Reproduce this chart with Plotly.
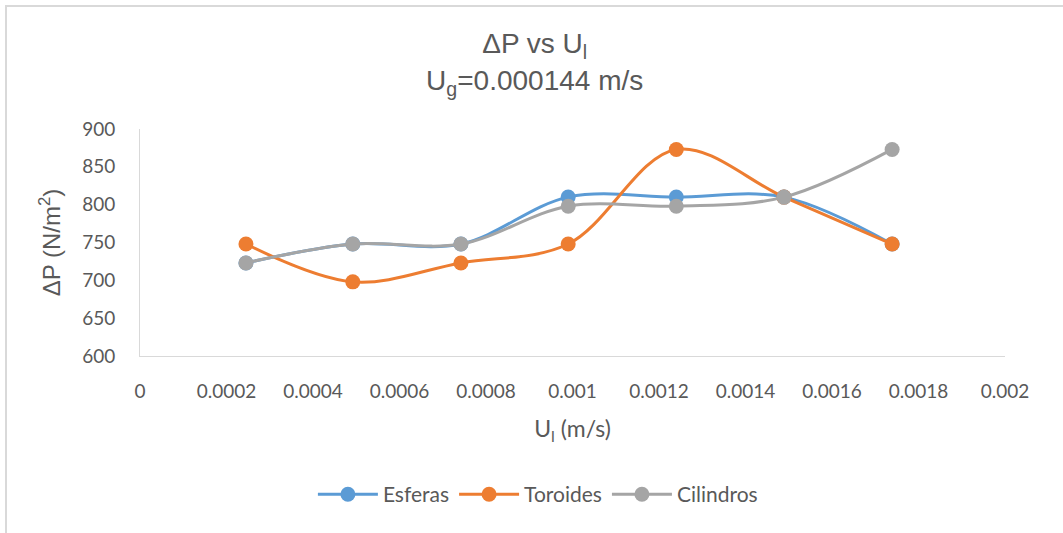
import plotly.graph_objects as go

# Liquid superficial velocity (m/s)
u_l = [0.000245, 0.000492, 0.000742, 0.00099, 0.00124, 0.001489, 0.001739]

# Pressure drop (N/m^2) for each packing type
esferas = [723, 748, 748, 810, 810, 810, 748]
toroides = [748, 698, 723, 748, 873, 810, 748]
cilindros = [723, 748, 748, 798, 798, 810, 873]

x_ticks = ["0", "0.0002", "0.0004", "0.0006", "0.0008", "0.001",
           "0.0012", "0.0014", "0.0016", "0.0018", "0.002"]

series = [
    ("Esferas", esferas, "#5B9BD5"),
    ("Toroides", toroides, "#ED7D31"),
    ("Cilindros", cilindros, "#A5A5A5"),
]

fig = go.Figure()
for name, vals, color in series:
    fig.add_trace(go.Scatter(
        x=u_l, y=vals, name=name, mode="lines+markers",
        line=dict(color=color, width=3, shape="spline", smoothing=1),
        marker=dict(color=color, size=15),
    ))

text_color = "#595959"
axis_color = "#D9D9D9"

fig.update_layout(
    width=1063, height=533,
    margin=dict(l=140, r=58, t=129, b=177),
    paper_bgcolor="white", plot_bgcolor="white",
    font=dict(family="Lato, Liberation Sans, sans-serif", color=text_color, size=18),
    title=dict(
        text="ΔP vs U<sub>l</sub><br>U<sub>g</sub>=0.000144 m/s",
        x=0.503, xanchor="center", y=0.90, yanchor="top",
        font=dict(family="Liberation Sans, Arial, sans-serif", size=28, color=text_color),
    ),
    xaxis=dict(
        range=[0, 0.002], tickvals=[i * 0.0002 for i in range(11)],
        ticktext=x_ticks,
        showgrid=False, zeroline=False, showline=True, linecolor=axis_color, linewidth=1,
        ticks="", ticklabelstandoff=18,
        tickfont=dict(size=19, color=text_color),
        title=dict(text="U<sub>l</sub> (m/s)", standoff=20,
                   font=dict(family="Lato, Liberation Sans, sans-serif", size=23, color=text_color)),
    ),
    yaxis=dict(
        range=[600, 900], dtick=50,
        showgrid=False, zeroline=False, showline=True, linecolor=axis_color, linewidth=1,
        ticks="", ticklabelstandoff=20,
        tickfont=dict(size=19, color=text_color),
        title=dict(text="ΔP (N/m<sup>2</sup>)", standoff=14,
                   font=dict(family="Liberation Sans, Arial, sans-serif", size=24, color=text_color)),
    ),
    legend=dict(
        orientation="h", x=0.46, xanchor="center", y=-0.52, yanchor="top",
        font=dict(size=21, color=text_color), itemwidth=60,
    ),
    showlegend=True,
)

# Outer chart frame
fig.add_shape(type="rect", xref="paper", yref="paper",
              x0=-0.1549, x1=1.2, y0=-1.0, y1=1.5419,
              line=dict(color=axis_color, width=2), fillcolor="rgba(0,0,0,0)", layer="below")

fig.write_html("out.html")
